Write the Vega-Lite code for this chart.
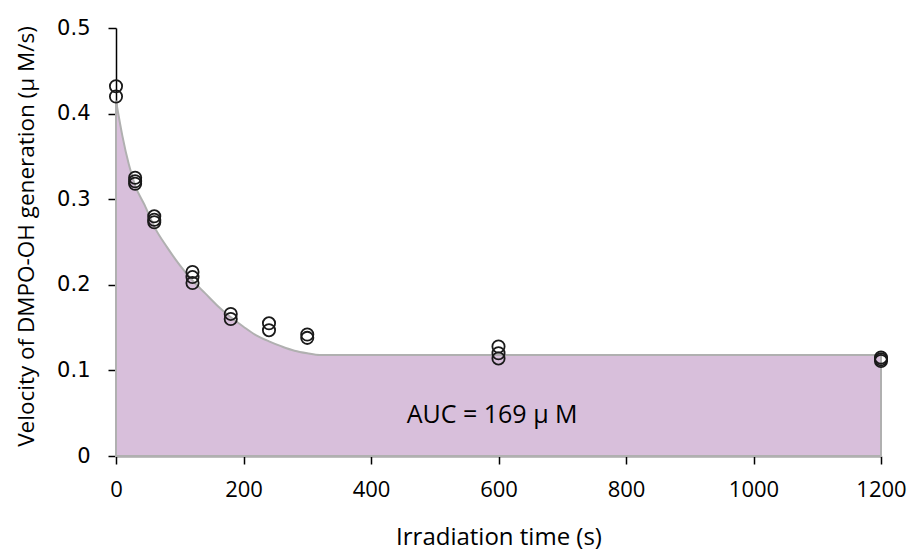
{
  "$schema": "https://vega.github.io/schema/vega-lite/v6.json",
  "autosize": {"type": "none"},
  "padding": {"left": 116, "top": 28, "right": 35, "bottom": 96},
  "width": 765,
  "height": 428,
  "background": "white",
  "config": {"view": {"stroke": null}},
  "datasets": {
    "curve": [
      {"t": 0, "v": 0.415}, {"t": 10, "v": 0.374}, {"t": 20, "v": 0.341}, {"t": 30, "v": 0.316},
      {"t": 45, "v": 0.293}, {"t": 60, "v": 0.268}, {"t": 80, "v": 0.244}, {"t": 100, "v": 0.223},
      {"t": 120, "v": 0.205}, {"t": 140, "v": 0.19}, {"t": 160, "v": 0.175}, {"t": 180, "v": 0.162},
      {"t": 200, "v": 0.151}, {"t": 220, "v": 0.141}, {"t": 240, "v": 0.134}, {"t": 260, "v": 0.128},
      {"t": 280, "v": 0.123}, {"t": 300, "v": 0.12}, {"t": 320, "v": 0.118}, {"t": 1200, "v": 0.118}
    ],
    "points": [
      {"t": 0, "v": 0.432}, {"t": 0, "v": 0.42},
      {"t": 30, "v": 0.325}, {"t": 30, "v": 0.321}, {"t": 30, "v": 0.318},
      {"t": 60, "v": 0.28}, {"t": 60, "v": 0.276}, {"t": 60, "v": 0.273},
      {"t": 120, "v": 0.215}, {"t": 120, "v": 0.209}, {"t": 120, "v": 0.202},
      {"t": 180, "v": 0.166}, {"t": 180, "v": 0.16},
      {"t": 240, "v": 0.155}, {"t": 240, "v": 0.147},
      {"t": 300, "v": 0.142}, {"t": 300, "v": 0.138},
      {"t": 600, "v": 0.128}, {"t": 600, "v": 0.12}, {"t": 600, "v": 0.114},
      {"t": 1200, "v": 0.115}, {"t": 1200, "v": 0.113}, {"t": 1200, "v": 0.111}
    ],
    "label": [{"t": 590, "v": 0.0385, "text": "AUC = 169  μ M"}]
  },
  "encoding": {
    "x": {
      "field": "t", "type": "quantitative",
      "scale": {"domain": [0, 1200], "nice": false, "zero": false},
      "axis": {
        "title": "Irradiation time (s)", "values": [0, 200, 400, 600, 800, 1000, 1200], "format": "d",
        "grid": false, "domainColor": "black", "domainWidth": 1.5, "tickColor": "black", "tickWidth": 1.5,
        "tickSize": 8, "labelPadding": 15, "labelFont": "Open Sans", "labelFontSize": 22, "labelColor": "black",
        "labelFlush": false, "labelOverlap": false,
        "titleFont": "Open Sans", "titleFontSize": 24, "titleFontWeight": "normal", "titleColor": "black",
        "titleBaseline": "alphabetic", "titleY": 88
      }
    },
    "y": {
      "field": "v", "type": "quantitative",
      "scale": {"domain": [0, 0.5], "nice": false},
      "axis": {
        "title": "Velocity of DMPO-OH generation (μ M/s)", "values": [0, 0.1, 0.2, 0.3, 0.4, 0.5], "format": "~g",
        "grid": false, "domainColor": "black", "domainWidth": 1.5, "tickColor": "black", "tickWidth": 1.5,
        "tickSize": 8, "labelPadding": 18, "labelFont": "DejaVu Sans", "labelFontSize": 21, "labelColor": "black",
        "labelFlush": false, "labelOverlap": false,
        "titleFont": "Open Sans", "titleFontSize": 22.5, "titleFontWeight": "normal", "titleColor": "black",
        "titleBaseline": "alphabetic", "titleX": -83, "titleY": 208, "titleAngle": -90
      }
    }
  },
  "layer": [
    {
      "data": {"name": "curve"},
      "mark": {"type": "area", "color": "#d8bfdb", "stroke": "#b0b0b0", "strokeWidth": 2, "interpolate": "monotone"}
    },
    {
      "data": {"name": "points"},
      "mark": {"type": "point", "shape": "circle", "filled": false, "stroke": "#1a1a1a", "strokeWidth": 1.8, "size": 150, "opacity": 1}
    },
    {
      "data": {"name": "label"},
      "mark": {"type": "text", "font": "Open Sans", "fontSize": 25, "color": "black", "align": "center", "baseline": "alphabetic"},
      "encoding": {"text": {"field": "text"}}
    }
  ]
}
